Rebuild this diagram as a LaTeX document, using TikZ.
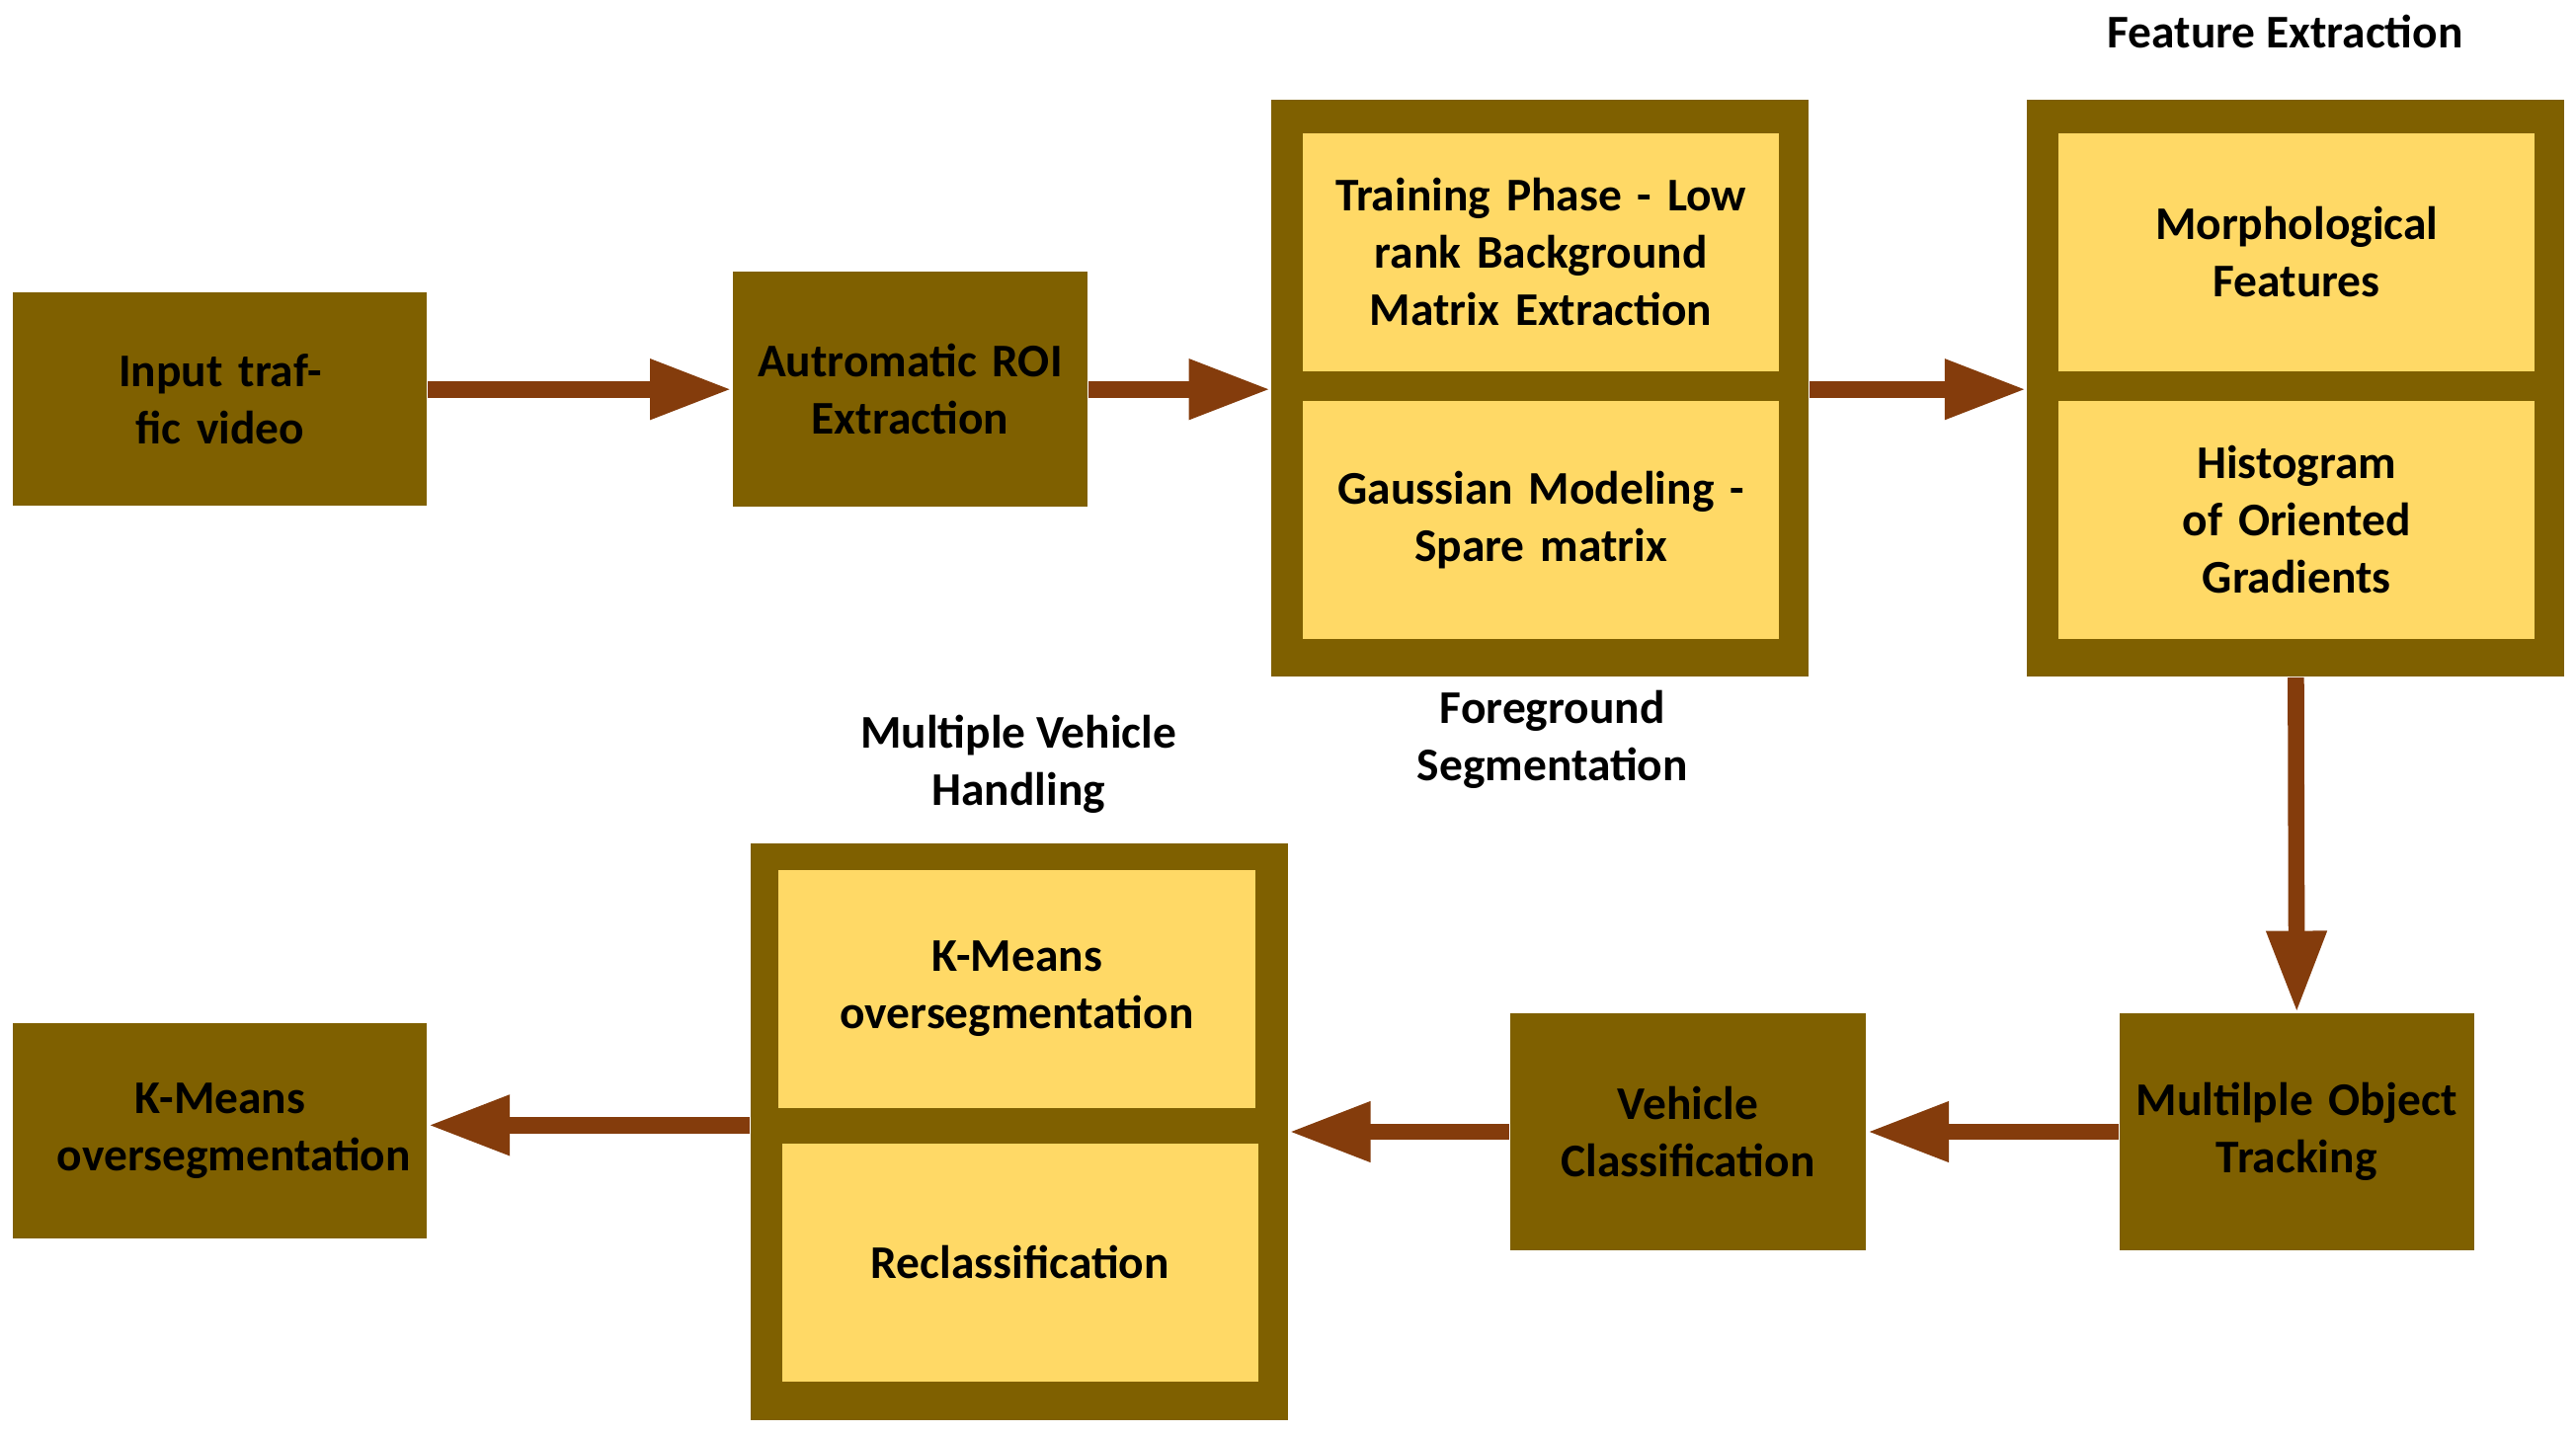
\documentclass[tikz,border=0pt]{standalone}
\usepackage{fontspec}
\setmainfont{Carlito}
\usetikzlibrary{arrows.meta, positioning}

\definecolor{olive}{HTML}{7F6000}
\definecolor{sand}{HTML}{FFD966}
\definecolor{rust}{HTML}{843C0C}

\begin{document}
\begin{tikzpicture}[
  x=0.1663mm, y=-0.1663mm,
  every node/.style={font=\fontsize{13.5}{16.5}\selectfont\bfseries, align=center, inner sep=0pt},
  stage/.style={rectangle, fill=olive, text width=3.3cm},
  group/.style={rectangle, fill=olive, minimum width=327*0.1663mm, minimum height=351*0.1663mm},
  part/.style={rectangle, fill=sand, minimum width=290*0.1663mm, minimum height=145*0.1663mm, text width=4.4cm},
  arrow/.style={-{Triangle[length=8.3mm, width=5.7mm]}, line width=1.66mm, draw=rust},
]
\useasboundingbox (0,0) rectangle (1568,872);

% top row
\node[stage, minimum width=252*0.1663mm, minimum height=130*0.1663mm] (input) at (134,243) {Input traffic video};
\node[stage, minimum width=216*0.1663mm, minimum height=143*0.1663mm] (roi) at (554,237) {Autromatic ROI\\Extraction};

\node[group] (fg) at (937.5,236.5) {};
\node[part] (lowrank) at (938,153.5) {Training Phase - Low\\rank Background\\Matrix Extraction};
\node[part] (gauss) at (938,316.5) {Gaussian Modeling -\\Spare matrix};
\node (fglabel) at (945,450) {Foreground\\Segmentation};

\node[group] (fe) at (1397.5,236.5) {};
\node[part] (morph) at (1398,153.5) {Morphological\\Features};
\node[part] (hog) at (1398,316.5) {Histogram of Oriented\\Gradients};
\node (felabel) at (1391,19) {Feature Extraction};

% bottom row
\node[stage, minimum width=216*0.1663mm, minimum height=144*0.1663mm] (track) at (1398,689) {Multilple Object\\Tracking};
\node[stage, minimum width=217*0.1663mm, minimum height=144*0.1663mm] (classify) at (1027.5,689) {Vehicle\\Classification};

\node[group] (mvh) at (620.5,689) {};
\node[part] (kmeans) at (619,602) {K-Means\\oversegmentation};
\node[part] (reclass) at (621,768.5) {Reclassification};
\node (mvhlabel) at (620,465) {Multiple Vehicle\\Handling};

\node[stage, minimum width=252*0.1663mm, minimum height=131*0.1663mm] (output) at (134,688.5) {K-Means\\oversegmentation};

% Connections
\draw[arrow] (input.east |- roi) -- (roi.west);
\draw[arrow] (roi.east) -- (fg.west |- roi);
\draw[arrow] (fg.east |- roi) -- (fe.west |- roi);
\draw[arrow] (fe.south) -- (track.north);
\draw[arrow] (track.west) -- (classify.east);
\draw[arrow] (classify.west) -- (mvh.east |- classify);
\draw[arrow] (mvh.west |- 0,685) -- (output.east |- 0,685);

\end{tikzpicture}
\end{document}
